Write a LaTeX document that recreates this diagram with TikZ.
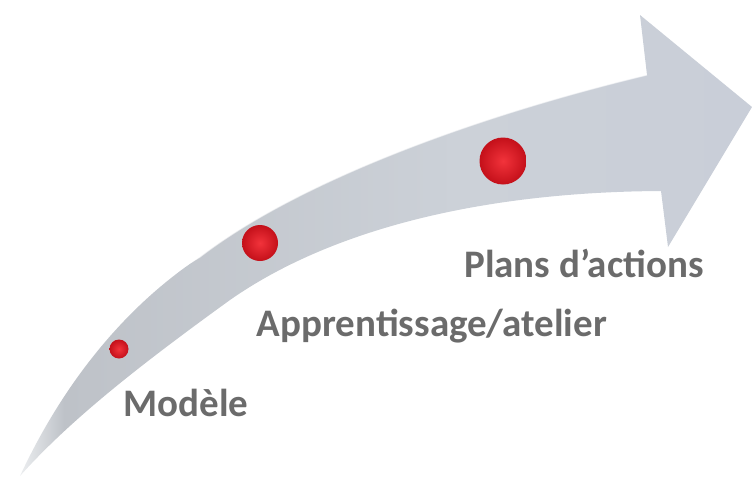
\documentclass[tikz,border=0pt]{standalone}
\usepackage{fontspec}
\setmainfont{Carlito}
\usepackage{xcolor}
\definecolor{labelgray}{HTML}{6B6B6B}
\definecolor{tailwhite}{HTML}{ECEEF0}
\definecolor{taildark}{HTML}{BEC2C8}
\definecolor{shaftgray}{HTML}{CCD1D8}
\definecolor{headgray}{HTML}{C9CED8}
\definecolor{redlight}{HTML}{F2333B}
\definecolor{reddark}{HTML}{C4101A}
\pgfdeclarehorizontalshading{arrowgray}{100bp}{color(0bp)=(tailwhite); color(25bp)=(tailwhite); color(28bp)=(taildark); color(55bp)=(shaftgray); color(75bp)=(headgray); color(100bp)=(headgray)}

\begin{document}
\begin{tikzpicture}[x=1pt, y=-1pt,
    label/.style={text=labelgray, font=\fontsize{39}{46}\selectfont\bfseries, inner sep=0pt},
    dot/.style={circle, shading=radial, inner color=redlight, outer color=reddark, inner sep=0pt}]
    \useasboundingbox (0,0) rectangle (753,479);

    % Curved arrow
    \shade[shading=arrowgray] (20,476) .. controls (60,390) and (120,310) .. (200,257)
        .. controls (300,180) and (480,115) .. (647,75)
        -- (640,15) -- (752,107) -- (668,247) -- (661,191)
        .. controls (480,192) and (330,230) .. (230,300)
        .. controls (140,365) and (70,420) .. (20,476) -- cycle;

    % Highlight on upper edge
    \draw[white, line width=1.2pt, opacity=0.6] (120,310) .. controls (150,285) and (170,275) .. (200,257)
        .. controls (300,180) and (480,115) .. (647,75);

    % Steps
    \node[dot, minimum size=19pt] (s1) at (119,349) {};
    \node[dot, minimum size=36pt] (s2) at (260,243) {};
    \node[dot, minimum size=47pt] (s3) at (503,161) {};

    % Labels
    \node[label] (t1) at (186,403) {Modèle};
    \node[label] (t2) at (432,326) {Apprentissage/atelier};
    \node[label] (t3) at (584,263) {Plans d’actions};
\end{tikzpicture}
\end{document}
